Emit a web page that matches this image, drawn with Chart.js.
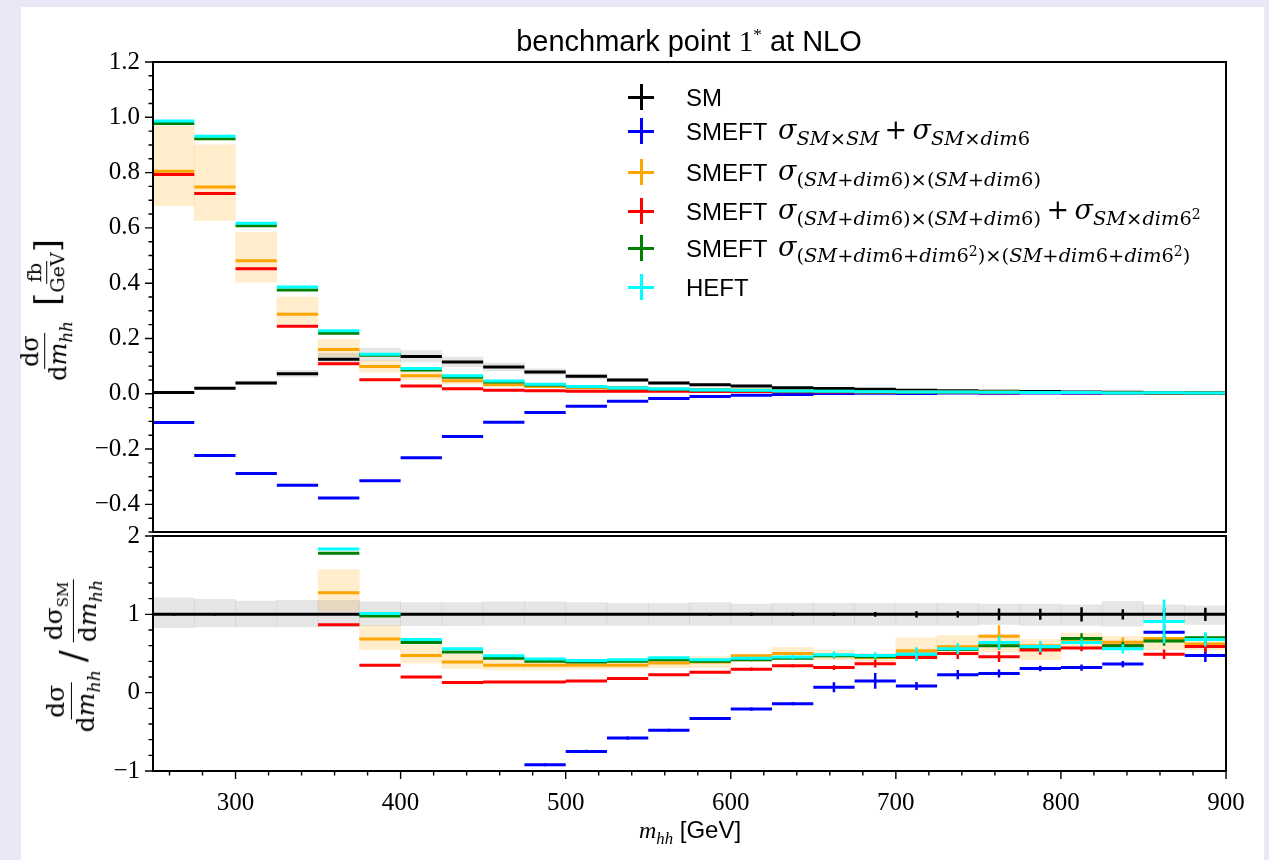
<!DOCTYPE html>
<html lang="en">
<head>
<meta charset="UTF-8">
<script src="https://cdn.jsdelivr.net/npm/chart.js@4.4.0/dist/chart.umd.min.js"></script>
<title>benchmark point 1* at NLO</title>
<style>
  body { margin: 0; width: 1269px; height: 860px; overflow: hidden; position: relative;
         background: #e8e8f6; font-family: "Liberation Sans", Arial, sans-serif; color: #000; }
  #card { position: absolute; left: 21px; top: 7px; width: 1243px; height: 860px; background: #fff; }
  canvas { position: absolute; left: 0; }
  #mainChart { top: 0; }
  #ratioChart { top: 500px; }
  .txt { position: absolute; white-space: nowrap; line-height: 1; }
  .serif { font-family: "Liberation Serif", "DejaVu Serif", serif; }
  .dserif { font-family: "DejaVu Serif", "Liberation Serif", serif; }
  .it { font-style: italic; }
  .up { font-style: normal; }
  .op { font-style: normal; margin: 0 0.2em; }
  .frac { display: inline-flex; flex-direction: column; align-items: center; vertical-align: middle; line-height: 1.05; }
  .frac > span:first-child { border-bottom: 1.5px solid #000; padding: 0 2px 1px; }
  .frac > span:last-child { padding-top: 1px; }
  .m sub { font-size: 0.72em; vertical-align: baseline; position: relative; top: 0.32em; }
  .m sup { font-size: 0.72em; vertical-align: baseline; position: relative; top: -0.45em; }
  .cross { position: absolute; width: 26px; height: 26px; }
  .cross::before, .cross::after { content: ""; position: absolute; background: var(--c); }
  .cross::before { left: 0; top: 11.5px; width: 26px; height: 3px; }
  .cross::after { left: 11.5px; top: 0; width: 3px; height: 26px; }
</style>
</head>
<body>
<div id="card"></div>
<canvas id="mainChart" width="1269" height="560"></canvas>
<canvas id="ratioChart" width="1269" height="360"></canvas>

<div class="txt" style="left:689px; top:26px; transform:translateX(-50%); font-size:29px;">benchmark point <span class="serif">1<sup style="font-size:0.6em">*</sup></span> at NLO</div>

<!-- legend -->
<div class="cross" style="--c:#000000; left:628px; top:84px;"></div>
<div class="cross" style="--c:#0000ff; left:628px; top:118px;"></div>
<div class="cross" style="--c:#ffa500; left:628px; top:159px;"></div>
<div class="cross" style="--c:#ff0000; left:628px; top:198px;"></div>
<div class="cross" style="--c:#008000; left:628px; top:235px;"></div>
<div class="cross" style="--c:#00ffff; left:628px; top:274px;"></div>
<div class="txt" style="left:686px; top:86px; font-size:24px;">SM</div>
<div class="txt" style="left:686px; top:120px; font-size:24px;">SMEFT</div>
<div class="txt" style="left:686px; top:161px; font-size:24px;">SMEFT</div>
<div class="txt" style="left:686px; top:200px; font-size:24px;">SMEFT</div>
<div class="txt" style="left:686px; top:237px; font-size:24px;">SMEFT</div>
<div class="txt" style="left:686px; top:276px; font-size:24px;">HEFT</div>
<div class="txt dserif it m" style="left:778px; top:116px; font-size:27px;">σ<sub>SM<span class="up">×</span>SM</sub><span class="op">+</span>σ<sub>SM<span class="up">×</span>dim<span class="up">6</span></sub></div>
<div class="txt dserif it m" style="left:778px; top:157px; font-size:27px;">σ<sub><span class="up">(</span>SM<span class="up">+</span>dim<span class="up">6)×(</span>SM<span class="up">+</span>dim<span class="up">6)</span></sub></div>
<div class="txt dserif it m" style="left:778px; top:196px; font-size:27px;">σ<sub><span class="up">(</span>SM<span class="up">+</span>dim<span class="up">6)×(</span>SM<span class="up">+</span>dim<span class="up">6)</span></sub><span class="op">+</span>σ<sub>SM<span class="up">×</span>dim<span class="up">6<sup>2</sup></span></sub></div>
<div class="txt dserif it m" style="left:778px; top:233px; font-size:27px;">σ<sub><span class="up">(</span>SM<span class="up">+</span>dim<span class="up">6+</span>dim<span class="up">6<sup>2</sup>)×(</span>SM<span class="up">+</span>dim<span class="up">6+</span>dim<span class="up">6<sup>2</sup>)</span></sub></div>

<!-- axis titles -->
<div class="txt dserif" style="left:47px; top:310px; transform:translate(-50%,-50%) rotate(-90deg); font-size:24px;">
  <span class="frac"><span>dσ</span><span>d<i>m</i><sub style="font-size:0.7em"><i>hh</i></sub></span></span>
  &nbsp;<span style="font-size:1.4em; vertical-align:middle">[</span><span class="frac" style="font-size:0.8em"><span>fb</span><span>GeV</span></span><span style="font-size:1.4em; vertical-align:middle">]</span>
</div>
<div class="txt dserif" style="left:73px; top:656px; transform:translate(-50%,-50%) rotate(-90deg); font-size:25px;">
  <span class="frac"><span>dσ</span><span>d<i>m</i><sub style="font-size:0.7em"><i>hh</i></sub></span></span>
  <span style="font-size:1.4em; vertical-align:middle">/</span>
  <span class="frac"><span>dσ<sub style="font-size:0.6em">SM</sub></span><span>d<i>m</i><sub style="font-size:0.7em"><i>hh</i></sub></span></span>
</div>
<div class="txt" style="left:690px; top:818px; transform:translateX(-50%); font-size:24px;"><span class="serif it">m<sub style="font-size:0.7em">hh</sub></span> [GeV]</div>

<script>
// bin edges in m_hh [GeV]
var binEdges = [250, 275, 300, 325, 350, 375, 400, 425, 450, 475, 500, 525, 550, 575, 600,
                625, 650, 675, 700, 725, 750, 775, 800, 825, 850, 875, 900];

// tick labels
var xTicks = [300, 400, 500, 600, 700, 800, 900];
var yTicksMain = [-0.4, -0.2, 0.0, 0.2, 0.4, 0.6, 0.8, 1.0, 1.2];
var yTicksRatio = [-1, 0, 1, 2];

// upper panel: dsigma/dm_hh [fb/GeV]
var sm     = [0.005, 0.020, 0.039, 0.072, 0.125, 0.142, 0.135, 0.115, 0.097, 0.079, 0.063, 0.050, 0.039,
              0.033, 0.028, 0.022, 0.019, 0.016, 0.013, 0.011, 0.009, 0.008, 0.0065, 0.0055, 0.0045, 0.004];
var smeftLin = [-0.104, -0.223, -0.288, -0.331, -0.377, -0.315, -0.231, -0.155, -0.103, -0.068, -0.045, -0.027, -0.017,
              -0.010, -0.005, -0.003, 0.0013, 0.0023, 0.0011, 0.0025, 0.0022, 0.0025, 0.0021, 0.002, 0.0035, 0.0019];
var smeftSq  = [0.805, 0.748, 0.481, 0.288, 0.160, 0.099, 0.065, 0.047, 0.033, 0.026, 0.022, 0.0175, 0.015,
              0.0128, 0.0132, 0.011, 0.0085, 0.007, 0.007, 0.0064, 0.0065, 0.0048, 0.0042, 0.0035, 0.0031, 0.0025];
var smeftSqD8 = [0.793, 0.724, 0.452, 0.244, 0.109, 0.051, 0.028, 0.018, 0.013, 0.011, 0.0095, 0.009, 0.009,
              0.0083, 0.0084, 0.0075, 0.0061, 0.0059, 0.0059, 0.0055, 0.0041, 0.0044, 0.0037, 0.0033, 0.0022, 0.0024];
var smeftFull = [0.978, 0.922, 0.608, 0.375, 0.219, 0.139, 0.086, 0.060, 0.043, 0.032, 0.025, 0.021, 0.0164,
              0.0138, 0.0118, 0.010, 0.0092, 0.0075, 0.0064, 0.0062, 0.0054, 0.0047, 0.0045, 0.0033, 0.003, 0.0028];
var heft     = [0.987, 0.931, 0.617, 0.386, 0.228, 0.143, 0.091, 0.065, 0.046, 0.034, 0.026, 0.021, 0.0174,
              0.0139, 0.0123, 0.010, 0.0092, 0.0076, 0.0064, 0.0062, 0.0058, 0.0047, 0.0042, 0.0031, 0.0041, 0.0027];
// scale uncertainty bands, upper panel
var smBandLo = [0.004, 0.017, 0.033, 0.061, 0.106, 0.121, 0.115, 0.098, 0.083, 0.068, 0.054, 0.043, 0.034,
              0.028, 0.024, 0.019, 0.016, 0.014, 0.011, 0.0095, 0.0078, 0.0069, 0.0056, 0.0047, 0.0039, 0.0034];
var smBandHi = [0.006, 0.024, 0.046, 0.085, 0.147, 0.165, 0.156, 0.133, 0.111, 0.090, 0.072, 0.057, 0.045,
              0.038, 0.032, 0.025, 0.022, 0.018, 0.015, 0.0127, 0.0103, 0.0092, 0.0075, 0.0064, 0.0052, 0.0046];
var sqBandLo = [0.68, 0.627, 0.404, 0.252, 0.133, 0.078, 0.051, 0.036, 0.028, 0.023, 0.019, 0.016, 0.0125,
              0.0106, 0.0115, 0.0106, 0.0075, 0.006, 0.0058, 0.0053, 0.0047, 0.0036, 0.0038, 0.003, 0.0025, 0.0022];
var sqBandHi = [0.967, 0.90, 0.584, 0.35, 0.197, 0.122, 0.082, 0.058, 0.045, 0.034, 0.026, 0.021, 0.018,
              0.015, 0.0135, 0.0128, 0.0099, 0.008, 0.0091, 0.008, 0.0067, 0.0054, 0.0049, 0.004, 0.0032, 0.0026];

// lower panel: ratio to SM (null = outside the plotted range)
var rSM       = [1, 1, 1, 1, 1, 1, 1, 1, 1, 1, 1, 1, 1, 1, 1, 1, 1, 1, 1, 1, 1, 1, 1, 1, 1, 1];
var rSmeftLin = [null, null, null, null, null, null, null, null, null, -0.92, -0.75, -0.58, -0.48,
                 -0.33, -0.21, -0.14, 0.07, 0.15, 0.085, 0.23, 0.245, 0.31, 0.32, 0.365, 0.77, 0.475];
var rSmeftSq  = [null, null, null, null, 1.276, 0.685, 0.476, 0.39, 0.35, 0.35, 0.35, 0.35, 0.38,
                 0.39, 0.47, 0.50, 0.47, 0.45, 0.535, 0.585, 0.72, 0.60, 0.67, 0.645, 0.69, 0.62];
var rSmeftSqD8 = [null, null, null, null, 0.867, 0.35, 0.20, 0.13, 0.135, 0.135, 0.15, 0.18, 0.23,
                 0.26, 0.30, 0.343, 0.32, 0.37, 0.45, 0.50, 0.46, 0.545, 0.57, 0.60, 0.49, 0.59];
var rSmeftFull = [null, null, null, null, 1.78, 0.98, 0.64, 0.52, 0.44, 0.40, 0.39, 0.40, 0.42,
                 0.40, 0.42, 0.44, 0.47, 0.46, 0.49, 0.55, 0.60, 0.58, 0.69, 0.60, 0.66, 0.70];
var rHeft     = [null, null, null, null, 1.834, 1.01, 0.68, 0.56, 0.47, 0.43, 0.41, 0.42, 0.446,
                 0.42, 0.44, 0.455, 0.485, 0.475, 0.49, 0.56, 0.64, 0.59, 0.64, 0.56, 0.91, 0.68];
// statistical errors on the ratios
var eSM       = [0.015, 0.015, 0.01, 0.01, 0.01, 0.01, 0.01, 0.01, 0.01, 0.01, 0.01, 0.01, 0.012,
                 0.017, 0.02, 0.02, 0.02, 0.03, 0.04, 0.04, 0.075, 0.07, 0.09, 0.065, 0.08, 0.085];
var eSmeftLin = [0, 0, 0, 0, 0, 0, 0, 0, 0, 0.02, 0.02, 0.02, 0.02,
                 0.02, 0.02, 0.02, 0.064, 0.1, 0.05, 0.06, 0.05, 0.035, 0.04, 0.04, 0.1, 0.085];
var eSmeftSq  = [0, 0, 0, 0, 0.01, 0.01, 0.01, 0.01, 0.01, 0.01, 0.01, 0.01, 0.01,
                 0.01, 0.02, 0.02, 0.03, 0.03, 0.03, 0.03, 0.14, 0.04, 0.04, 0.06, 0.05, 0.05];
var eSmeftSqD8 = [0, 0, 0, 0, 0.01, 0.01, 0.01, 0.01, 0.01, 0.01, 0.01, 0.01, 0.01,
                 0.01, 0.02, 0.02, 0.03, 0.05, 0.04, 0.07, 0.07, 0.06, 0.04, 0.04, 0.06, 0.07];
var eSmeftFull = [0, 0, 0, 0, 0.01, 0.01, 0.01, 0.01, 0.01, 0.01, 0.01, 0.01, 0.01,
                 0.01, 0.02, 0.02, 0.03, 0.03, 0.04, 0.04, 0.05, 0.04, 0.07, 0.05, 0.06, 0.06];
var eHeft     = [0, 0, 0, 0, 0.015, 0.015, 0.015, 0.015, 0.015, 0.015, 0.015, 0.015, 0.015,
                 0.015, 0.02, 0.03, 0.04, 0.04, 0.09, 0.07, 0.085, 0.07, 0.05, 0.06, 0.28, 0.09];
var rSmBandLo = [0.83, 0.84, 0.84, 0.84, 0.84, 0.855, 0.855, 0.855, 0.86, 0.86, 0.86, 0.86, 0.86,
                 0.86, 0.86, 0.86, 0.86, 0.86, 0.86, 0.86, 0.87, 0.86, 0.86, 0.85, 0.89, 0.87];
var rSmBandHi = [1.21, 1.19, 1.17, 1.18, 1.18, 1.16, 1.15, 1.15, 1.16, 1.16, 1.15, 1.14, 1.14,
                 1.15, 1.13, 1.14, 1.14, 1.14, 1.14, 1.14, 1.13, 1.13, 1.12, 1.165, 1.12, 1.11];
var rSqBandLo = [null, null, null, null, 1.04, 0.55, 0.375, 0.31, 0.29, 0.29, 0.30, 0.31, 0.32,
                 0.32, 0.40, 0.48, 0.42, 0.40, 0.43, 0.48, 0.52, 0.42, 0.58, 0.55, 0.55, 0.55];
var rSqBandHi = [null, null, null, null, 1.57, 0.86, 0.61, 0.50, 0.46, 0.43, 0.42, 0.42, 0.46,
                 0.46, 0.48, 0.58, 0.54, 0.50, 0.70, 0.73, 0.74, 0.68, 0.76, 0.72, 0.70, 0.66];

var colors = ['#000000', '#0000ff', '#ffa500', '#ff0000', '#008000', '#00ffff'];

function centerOf(i) { return (binEdges[i] + binEdges[i + 1]) / 2; }

// horizontal bar per bin, broken between bins
function steps(vals) {
  var pts = [];
  vals.forEach(function (v, i) {
    if (v === null) return;
    pts.push({x: binEdges[i], y: v}, {x: binEdges[i + 1], y: v}, {x: binEdges[i + 1], y: null});
  });
  return pts;
}

// vertical error bar at bin centre
function errs(vals, e) {
  var pts = [];
  vals.forEach(function (v, i) {
    if (v === null || !e[i]) return;
    var c = centerOf(i);
    pts.push({x: c, y: v - e[i]}, {x: c, y: v + e[i]}, {x: c, y: null});
  });
  return pts;
}

function band(lo, hi, color) {
  return {
    type: 'bar', order: 100, grouped: false,
    data: lo.map(function (l, i) { return {x: centerOf(i), y: l === null ? null : [l, hi[i]]}; }),
    backgroundColor: color, borderWidth: 0, barPercentage: 1, categoryPercentage: 1
  };
}

function lineSet(pts, color, order, width) {
  return {
    type: 'line', data: pts, borderColor: color, borderWidth: width, borderCapStyle: 'butt',
    pointRadius: 0, spanGaps: false, fill: false, tension: 0, order: order
  };
}

function seriesSets(list, errList) {
  var out = [];
  list.forEach(function (vals, k) {
    out.push(lineSet(steps(vals), colors[k], 10 - k, 3));
    if (errList) out.push(lineSet(errs(vals, errList[k]), colors[k], 10 - k, 2.5));
  });
  return out;
}

function range(a, b, step) {
  var r = [];
  for (var v = a; v <= b + 1e-9; v += step) r.push(Math.round(v * 1000) / 1000);
  return r;
}

// frame + outward major/minor ticks
var frameTicks = {
  id: 'frameTicks',
  afterDraw: function (chart, args, o) {
    var ctx = chart.ctx, a = chart.chartArea, sx = chart.scales.x, sy = chart.scales.y;
    ctx.save();
    ctx.strokeStyle = '#000';
    ctx.lineWidth = 1.4;
    ctx.beginPath();
    o.yMajor.forEach(function (v) { var y = sy.getPixelForValue(v); ctx.moveTo(a.left, y); ctx.lineTo(a.left - 8, y); });
    o.yMinor.forEach(function (v) { var y = sy.getPixelForValue(v); ctx.moveTo(a.left, y); ctx.lineTo(a.left - 4.5, y); });
    if (o.xMajor) {
      o.xMajor.forEach(function (v) { var x = sx.getPixelForValue(v); ctx.moveTo(x, a.bottom); ctx.lineTo(x, a.bottom + 8); });
      o.xMinor.forEach(function (v) { var x = sx.getPixelForValue(v); ctx.moveTo(x, a.bottom); ctx.lineTo(x, a.bottom + 4.5); });
    }
    ctx.stroke();
    ctx.lineWidth = 2;
    ctx.strokeRect(a.left, a.top, a.right - a.left, a.bottom - a.top);
    ctx.restore();
  }
};

var tickFont = {family: '"Liberation Serif", "DejaVu Serif", serif', size: 25};
function minusFmt(v, digits) {
  var s = digits ? Number(v).toFixed(digits) : String(v);
  return s.replace('-', '\u2212');
}

// upper panel
new Chart(document.getElementById('mainChart'), {
  type: 'line',
  data: {
    datasets: [band(smBandLo, smBandHi, 'rgba(128,128,128,0.2)'), band(sqBandLo, sqBandHi, 'rgba(255,165,0,0.2)')]
      .concat(seriesSets([sm, smeftLin, smeftSq, smeftSqD8, smeftFull, heft], null))
  },
  options: {
    responsive: false, animation: false,
    layout: {padding: {top: 62, right: 43, bottom: 24, left: 0}},
    plugins: {
      legend: {display: false}, tooltip: {enabled: false},
      frameTicks: {yMajor: yTicksMain, yMinor: range(-0.5, 1.2, 0.05)}
    },
    scales: {
      x: {type: 'linear', min: 250, max: 900, offset: false, grid: {offset: false}, display: false},
      y: {
        min: -0.5, max: 1.2, grid: {display: false, drawTicks: false}, border: {display: false},
        afterFit: function (s) { s.width = 153; },
        afterBuildTicks: function (s) { s.ticks = yTicksMain.map(function (v) { return {value: v}; }); },
        ticks: {font: tickFont, color: '#000', padding: 13, callback: function (v) { return minusFmt(v, 1); }}
      }
    }
  },
  plugins: [frameTicks]
});

// lower panel
new Chart(document.getElementById('ratioChart'), {
  type: 'line',
  data: {
    datasets: [band(rSmBandLo, rSmBandHi, 'rgba(128,128,128,0.2)'), band(rSqBandLo, rSqBandHi, 'rgba(255,165,0,0.2)')]
      .concat(seriesSets([rSM, rSmeftLin, rSmeftSq, rSmeftSqD8, rSmeftFull, rHeft],
                         [eSM, eSmeftLin, eSmeftSq, eSmeftSqD8, eSmeftFull, eHeft]))
  },
  options: {
    responsive: false, animation: false,
    layout: {padding: {top: 36, right: 43, bottom: 0, left: 0}},
    plugins: {
      legend: {display: false}, tooltip: {enabled: false},
      frameTicks: {yMajor: yTicksRatio, yMinor: range(-1, 2, 0.2),
                   xMajor: xTicks, xMinor: range(260, 900, 20)}
    },
    scales: {
      x: {
        type: 'linear', min: 250, max: 900, offset: false,
        grid: {display: false, drawTicks: false, offset: false}, border: {display: false},
        afterFit: function (s) { s.height = 89; },
        afterBuildTicks: function (s) { s.ticks = xTicks.map(function (v) { return {value: v}; }); },
        ticks: {font: tickFont, color: '#000', padding: 17, maxRotation: 0}
      },
      y: {
        min: -1, max: 2, grid: {display: false, drawTicks: false}, border: {display: false},
        afterFit: function (s) { s.width = 153; },
        afterBuildTicks: function (s) { s.ticks = yTicksRatio.map(function (v) { return {value: v}; }); },
        ticks: {font: tickFont, color: '#000', padding: 13, callback: function (v) { return minusFmt(v, 0); }}
      }
    }
  },
  plugins: [frameTicks]
});
</script>
</body>
</html>
